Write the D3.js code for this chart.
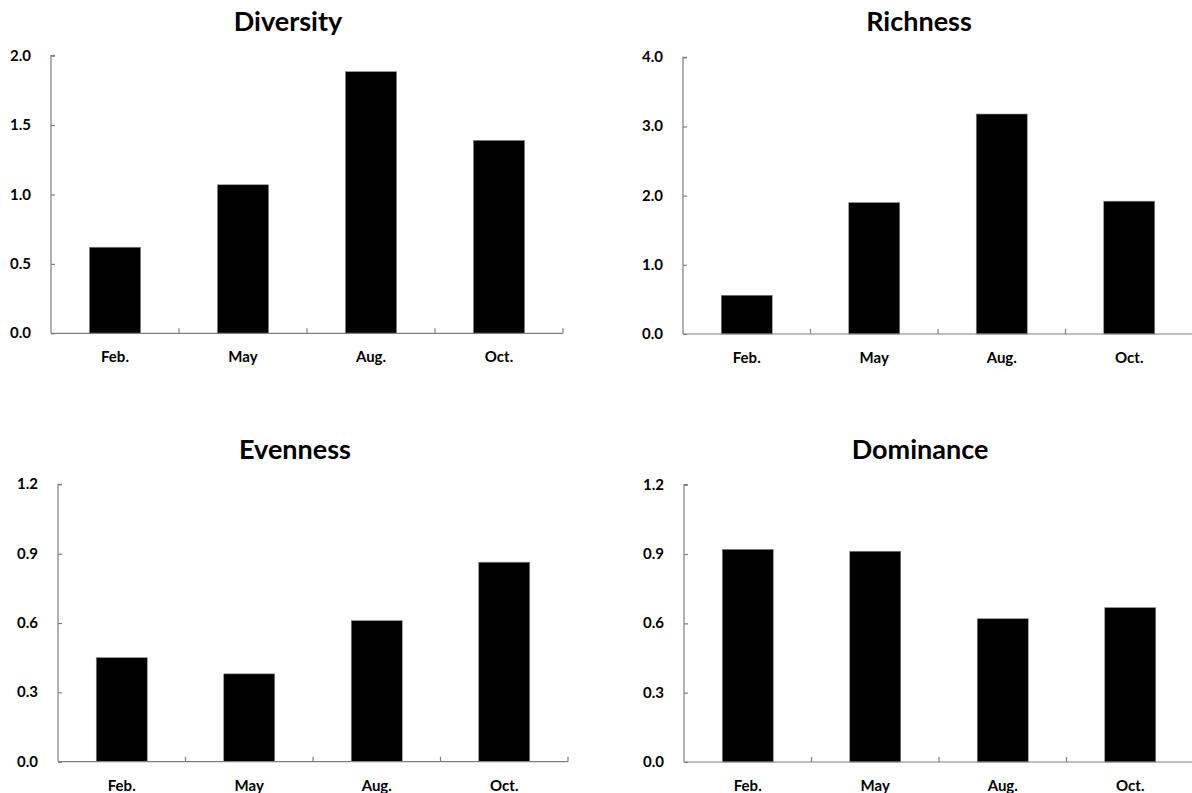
<!DOCTYPE html>
<html>
<head>
<meta charset="utf-8">
<script src="https://cdn.jsdelivr.net/npm/d3@7"></script>
<style>
  html, body { margin: 0; padding: 0; background: #fff; }
  svg { display: block; }
  text { font-family: Lato, "Open Sans", sans-serif; font-weight: bold; fill: #000; }
</style>
</head>
<body>
<svg id="chart" width="1192" height="793"></svg>
<script>
// Sampling months shared by every panel
const months = ["Feb.", "May", "Aug.", "Oct."];

// Index values per month
const diversity = [0.62, 1.07, 1.885, 1.39];
const richness  = [0.56, 1.90, 3.18, 1.92];
const evenness  = [0.45, 0.38, 0.61, 0.863];
const dominance = [0.92, 0.912, 0.62, 0.668];

// Titles, y-axis maxima and tick labels per panel
const titles = ["Diversity", "Richness", "Evenness", "Dominance"];
const yMax = [2.0, 4.0, 1.2, 1.2];
const yTicks = [
  ["0.0", "0.5", "1.0", "1.5", "2.0"],
  ["0.0", "1.0", "2.0", "3.0", "4.0"],
  ["0.0", "0.3", "0.6", "0.9", "1.2"],
  ["0.0", "0.3", "0.6", "0.9", "1.2"]
];
const series = [diversity, richness, evenness, dominance];

// Plot frame of each panel
const layout = [
  { x0: 51,  x1: 563,  top: 55.7,  bottom: 333.3, titleX: 288, titleY: 31 },
  { x0: 683, x1: 1193, top: 57.3,  bottom: 334,   titleX: 919, titleY: 31 },
  { x0: 58,  x1: 568,  top: 484.3, bottom: 761.7, titleX: 295, titleY: 459 },
  { x0: 684, x1: 1194, top: 484.7, bottom: 762,   titleX: 920, titleY: 459 }
];

const svg = d3.select("#chart");
const axisColor = "#7f7f7f";

series.forEach((values, i) => {
  const L = layout[i];
  const g = svg.append("g");

  const x = d3.scaleBand()
    .domain(months)
    .range([L.x0, L.x1])
    .paddingInner(0.6)
    .paddingOuter(0.3);

  const y = d3.scaleLinear()
    .domain([0, yMax[i]])
    .range([L.bottom, L.top]);

  // Bars
  g.selectAll("rect.bar")
    .data(values)
    .join("rect")
    .attr("class", "bar")
    .attr("x", (d, j) => x(months[j]))
    .attr("width", x.bandwidth())
    .attr("y", d => y(d))
    .attr("height", d => y(0) - y(d))
    .attr("fill", "#000")
    .attr("stroke", "#8c8c8c")
    .attr("stroke-width", 0.6);

  // Y axis with ticks pointing into the plot
  const tickVals = yTicks[i].map(Number);
  const yAxis = d3.axisRight(y)
    .tickValues(tickVals)
    .tickSize(4)
    .tickSizeOuter(4)
    .tickFormat("");
  const ya = g.append("g")
    .attr("transform", `translate(${L.x0},0)`)
    .call(yAxis);
  ya.selectAll("path, line").attr("stroke", axisColor).attr("stroke-width", 1.2);
  ya.select(".domain").attr("d", `M4,${L.top}H0V${L.bottom}`);

  // Y tick labels
  g.selectAll("text.ytick")
    .data(yTicks[i])
    .join("text")
    .attr("class", "ytick")
    .attr("x", L.x0 - 20)
    .attr("y", d => y(+d) + 5)
    .attr("text-anchor", "end")
    .attr("font-size", 15)
    .text(d => d);

  // X axis baseline with boundary ticks pointing up
  const xa = g.append("g");
  xa.append("line")
    .attr("x1", L.x0).attr("x2", L.x1)
    .attr("y1", L.bottom).attr("y2", L.bottom)
    .attr("stroke", axisColor).attr("stroke-width", 1.2);
  const boundaries = months.slice(1).map(m => x(m) - x.step() * x.paddingInner() / 2);
  boundaries.push(L.x1);
  xa.selectAll("line.xtick")
    .data(boundaries)
    .join("line")
    .attr("class", "xtick")
    .attr("x1", d => d).attr("x2", d => d)
    .attr("y1", L.bottom).attr("y2", L.bottom - 5)
    .attr("stroke", axisColor).attr("stroke-width", 1.2);

  // Month labels
  g.selectAll("text.xlab")
    .data(months)
    .join("text")
    .attr("class", "xlab")
    .attr("x", d => x(d) + x.bandwidth() / 2)
    .attr("y", L.bottom + 29)
    .attr("text-anchor", "middle")
    .attr("font-size", 15)
    .text(d => d);

  // Panel title
  g.append("text")
    .attr("x", L.titleX)
    .attr("y", L.titleY)
    .attr("text-anchor", "middle")
    .attr("font-size", 27)
    .text(titles[i]);
});
</script>
</body>
</html>
